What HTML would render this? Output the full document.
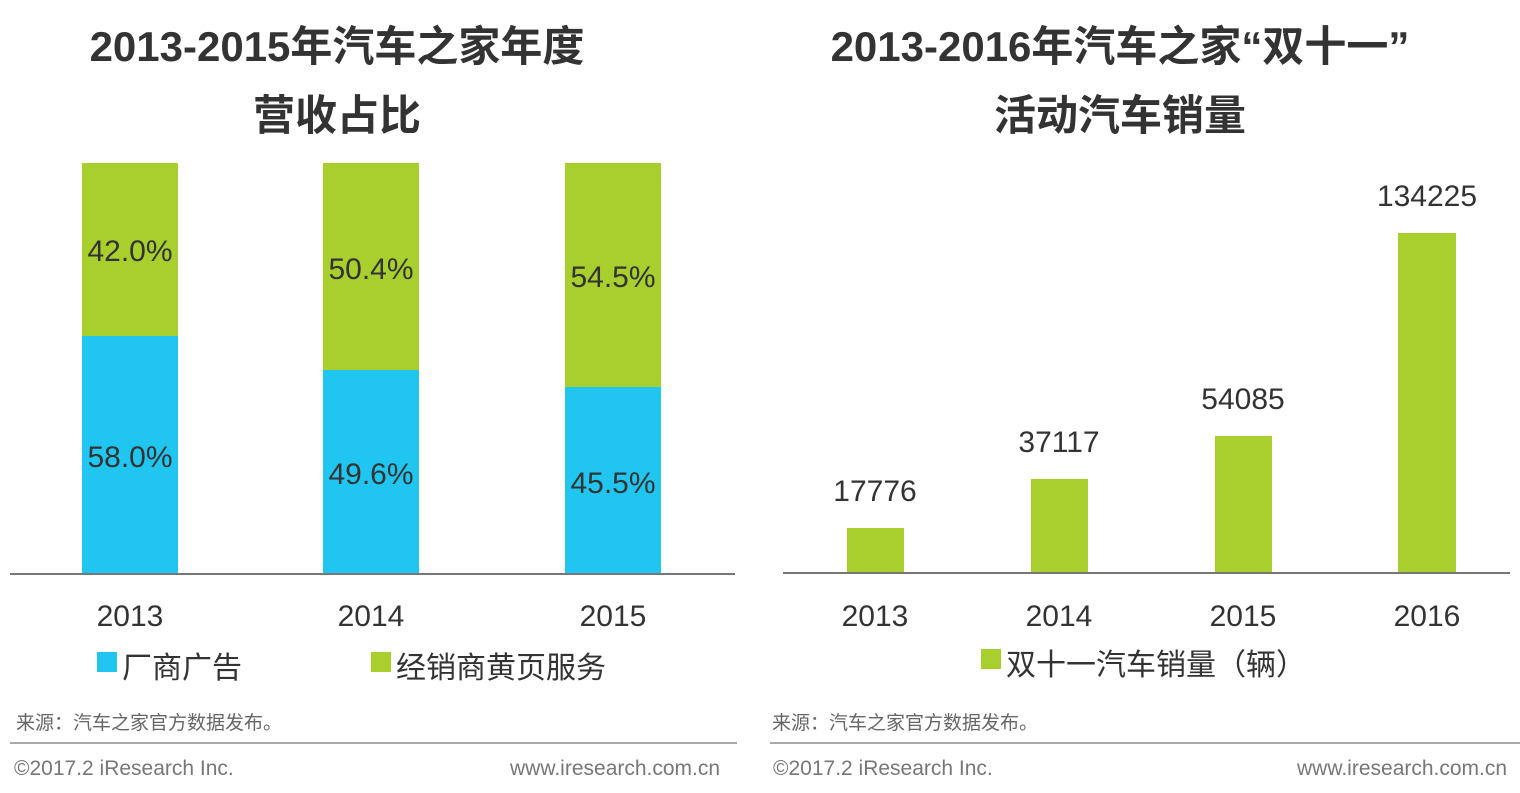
<!DOCTYPE html><html><head><meta charset="utf-8"><style>
body{margin:0;width:1520px;height:793px;background:#fff;position:relative;overflow:hidden;font-family:"Liberation Sans","Noto Sans CJK SC",sans-serif}
div{position:absolute}
.t{font-weight:bold;font-size:42px;color:#333;text-align:center;white-space:nowrap}
.g{background:#a8cf2e}.b{background:#20c6f0}
.l{font-size:30px;color:#333;text-align:center;width:200px;white-space:nowrap}
.s{font-size:19px;color:#666;white-space:nowrap}
.f{font-size:21px;color:#777;white-space:nowrap}
</style></head><body>
<div class="t" style="left:37px;width:600px;top:13px">2013-2015年汽车之家年度</div>
<div class="t" style="left:37px;width:600px;top:82px">营收占比</div>
<div class="t" style="left:770px;width:700px;top:13px">2013-2016年汽车之家“双十一”</div>
<div class="t" style="left:770px;width:700px;top:82px">活动汽车销量</div>

<div class="g" style="left:82px;top:163px;width:96px;height:173px"></div><div class="b" style="left:82px;top:336px;width:96px;height:238px"></div>
<div class="g" style="left:323px;top:163px;width:96px;height:207px"></div><div class="b" style="left:323px;top:370px;width:96px;height:204px"></div>
<div class="g" style="left:565px;top:163px;width:96px;height:224px"></div><div class="b" style="left:565px;top:387px;width:96px;height:187px"></div>
<div class="l" style="left:30px;top:235px">42.0%</div><div class="l" style="left:30px;top:441px">58.0%</div>
<div class="l" style="left:271px;top:253px">50.4%</div><div class="l" style="left:271px;top:458px">49.6%</div>
<div class="l" style="left:513px;top:261px">54.5%</div><div class="l" style="left:513px;top:467px">45.5%</div>
<div style="left:10px;top:573px;width:725px;height:2px;background:#777"></div>
<div class="l" style="left:30px;top:600px">2013</div><div class="l" style="left:271px;top:600px">2014</div><div class="l" style="left:513px;top:600px">2015</div>
<div class="b" style="left:97px;top:652px;width:20px;height:20px"></div><div class="l" style="left:122px;top:643px;width:auto;text-align:left">厂商广告</div>
<div class="g" style="left:371px;top:652px;width:20px;height:20px"></div><div class="l" style="left:396px;top:643px;width:auto;text-align:left">经销商黄页服务</div>

<div class="g" style="left:847px;top:528px;width:57px;height:46px"></div>
<div class="g" style="left:1031px;top:479px;width:57px;height:95px"></div>
<div class="g" style="left:1215px;top:436px;width:57px;height:138px"></div>
<div class="g" style="left:1398px;top:233px;width:58px;height:341px"></div>
<div class="l" style="left:775px;top:475px">17776</div>
<div class="l" style="left:959px;top:426px">37117</div>
<div class="l" style="left:1143px;top:383px">54085</div>
<div class="l" style="left:1327px;top:180px">134225</div>
<div style="left:783px;top:572px;width:727px;height:2px;background:#777"></div>
<div class="l" style="left:775px;top:600px">2013</div><div class="l" style="left:959px;top:600px">2014</div><div class="l" style="left:1143px;top:600px">2015</div><div class="l" style="left:1327px;top:600px">2016</div>
<div class="g" style="left:981px;top:649px;width:20px;height:20px"></div><div class="l" style="left:1006px;top:640px;width:auto;text-align:left">双十一汽车销量（辆）</div>

<div class="s" style="left:16px;top:708px">来源：汽车之家官方数据发布。</div>
<div class="s" style="left:772px;top:708px">来源：汽车之家官方数据发布。</div>
<div style="left:10px;top:742px;width:727px;height:2px;background:#aaa"></div>
<div style="left:770px;top:742px;width:750px;height:2px;background:#aaa"></div>
<div class="f" style="left:14px;top:757px">©2017.2 iResearch Inc.</div>
<div class="f" style="left:510px;top:757px">www.iresearch.com.cn</div>
<div class="f" style="left:773px;top:757px">©2017.2 iResearch Inc.</div>
<div class="f" style="left:1297px;top:757px">www.iresearch.com.cn</div>
</body></html>
